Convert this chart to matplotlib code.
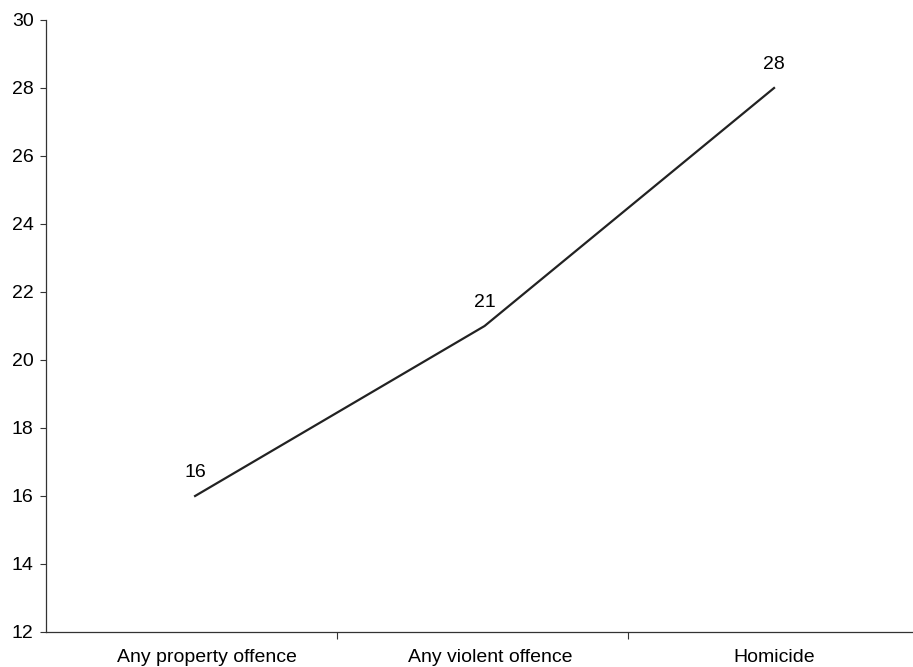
import matplotlib.pyplot as plt

plt.rcParams.update({
    'font.family': ['Liberation Sans', 'DejaVu Sans'],
    'font.size': 14,
    'axes.linewidth': 0.9,
})

categories = ["Any property offence", "Any violent offence", "Homicide"]
values = [16, 21, 28]
yticks = [12, 14, 16, 18, 20, 22, 24, 26, 28, 30]

fig = plt.figure(figsize=(9.13, 6.67), dpi=100)
ax = fig.add_axes([46 / 913, 35 / 667, 1 - 46 / 913, (632 - 20) / 667])

x = range(len(categories))
ax.plot(x, values, color="#222222", lw=1.6)
for xi, v in zip(x, values):
    ax.annotate(str(v), (xi, v), xytext=(0, 11), textcoords="offset points",
                ha="center", va="bottom", fontsize=14)

ax.set_xlim(-0.515, 2.48)
ax.set_ylim(12, 30)
ax.set_yticks(yticks)
ax.set_xticks([0.49, 1.495])
ax.set_xticklabels([])
ax.set_xticks([0.04, 1.02, 2.0], minor=True)
ax.set_xticklabels(categories, minor=True)
ax.tick_params(axis="x", which="minor", length=0, pad=12.5)
ax.tick_params(axis="x", which="major", length=5, direction="out", color="#333333")
ax.tick_params(axis="y", length=4, direction="out", color="#333333", pad=5)

for s in ["top", "right"]:
    ax.spines[s].set_visible(False)
for s in ["left", "bottom"]:
    ax.spines[s].set_color("#333333")

fig.savefig("out.png", dpi=100)
